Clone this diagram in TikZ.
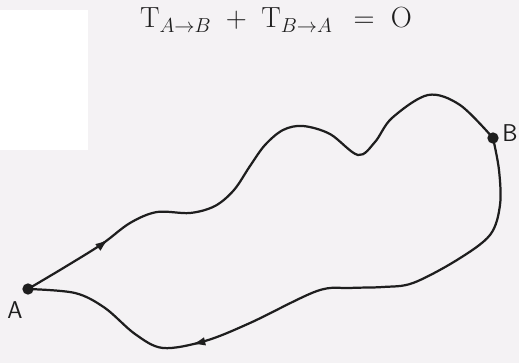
\documentclass[tikz,border=0pt]{standalone}
\usepackage{tikz}
\usetikzlibrary{arrows.meta, decorations.markings}
\usepackage{amsmath}
\definecolor{paperGrey}{HTML}{F4F2F4}
\definecolor{inkDark}{HTML}{1E1E1E}

\begin{document}
\begin{tikzpicture}[x=0.03cm, y=-0.03cm,
    curva/.style={draw=inkDark, line width=1.9pt, line cap=round, line join=round},
    punto/.style={circle, fill=inkDark, inner sep=0pt, minimum size=0.34cm},
    etiq/.style={font=\sffamily\huge, text=inkDark, inner sep=0pt},
    flechamed/.style={postaction={decorate, decoration={markings,
        mark=at position #1 with {\arrow{Latex[length=4mm, width=2.6mm]}}}}},
  ]
    % Fondo
    \fill[paperGrey] (0,0) rectangle (519,363);
    \fill[white] (0,10) rectangle (88,150);
    \useasboundingbox (0,0) rectangle (519,363);

    % Ecuación
    \node[font=\fontsize{25}{30}\selectfont, text=inkDark] (titulo) at (276,20)
      {$\mathrm{T}_{A\rightarrow B}\;+\;\mathrm{T}_{B\rightarrow A}\;\,=\;\mathrm{O}$};

    % Puntos
    \node[punto] (A) at (28,289) {};
    \node[punto] (B) at (493,138) {};
    \node[etiq] (labA) at (15,310) {A};
    \node[etiq] (labB) at (510,133) {B};

    % Camino A -> B
    \draw[curva, flechamed=0.165] plot[smooth, tension=0.55] coordinates {
      (A) (65,267) (102,244) (130,223) (157,212) (190,213) (215,206) (234,190)
      (250,166) (265,145) (283,130) (303,126) (330,134) (358,155) (375,142)
      (392,118) (428,95) (460,105) (B)};

    % Camino B -> A
    \draw[curva, flechamed=0.70] plot[smooth, tension=0.55] coordinates {
      (B) (499,170) (500,205) (490,235) (457,260) (413,283) (383,287)
      (350,288) (317,291) (250,323) (205,341) (163,348) (135,334) (105,308)
      (75,293) (A)};
  \end{tikzpicture}
\end{document}
